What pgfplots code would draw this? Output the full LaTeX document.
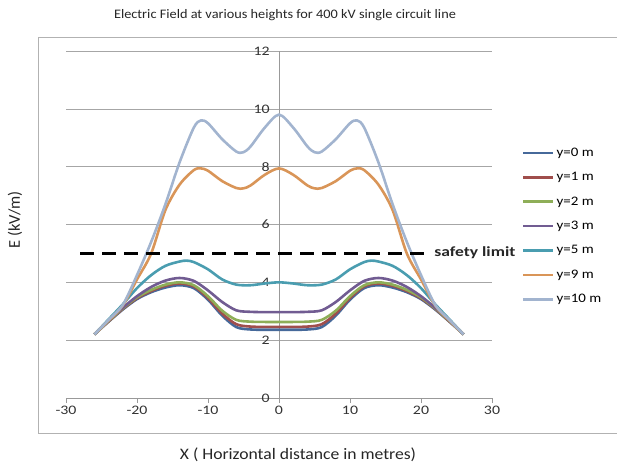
\documentclass[border=0pt]{standalone}
\usepackage{fontspec}
\setmainfont{Carlito}
\usepackage{pgfplots}
\pgfplotsset{compat=1.18}
\definecolor{c0}{HTML}{46699A}
\definecolor{c1}{HTML}{A04E4C}
\definecolor{c2}{HTML}{8EAE58}
\definecolor{c3}{HTML}{715C92}
\definecolor{c5}{HTML}{4A9DB0}
\definecolor{c9}{HTML}{D99558}
\definecolor{c10}{HTML}{A2B4CF}
\begin{document}
\begin{tikzpicture}
\useasboundingbox (-66pt,-67pt) rectangle (551pt,398pt);
\draw[gray!60, line width=0.8pt] (-28pt,-35pt) rectangle (560pt,361pt);
\begin{axis}[at={(0,0)}, anchor=south west, scale only axis,
  width=426pt, height=347pt,
  xmin=-30, xmax=30, ymin=0, ymax=12,
  axis x line=bottom, axis y line=middle,
  axis line style={-, gray!80, line width=0.6pt},
  hide obscured x ticks=false, hide obscured y ticks=false,
  xtick={-30,-20,...,30}, ytick={0,2,...,12},
  x tick label style={font=\fontsize{13}{15}\selectfont, text=black!80, xscale=1.22},
  y tick label style={font=\fontsize{13}{15}\selectfont, text=black!80, xscale=1.22},
  xtick style={gray!80, line width=0.6pt}, ytick style={draw=none},
  tick align=outside, major tick length=5pt,
  ymajorgrids, grid style={gray!70, line width=0.5pt},
  /pgf/number format/assume math mode=true,
  clip=false,
  legend style={at={(1.063,0.733)}, anchor=north west, draw=none, fill=none,
    font=\fontsize{13}{15}\selectfont, row sep=10.5pt},
  legend cell align=left,
  legend image code/.code={\draw[#1, line width=2.6pt] (0pt,0pt) -- (30pt,0pt);},
]
\addplot[c0, line width=2.6pt, smooth] coordinates {(-26,2.2) (-24,2.64) (-22,3.06) (-20,3.42) (-18,3.66) (-16,3.82) (-14,3.9) (-12,3.8) (-10,3.4) (-8,2.85) (-6,2.45) (-4,2.37) (-2,2.36) (0,2.36) (2,2.36) (4,2.37) (6,2.45) (8,2.85) (10,3.4) (12,3.8) (14,3.9) (16,3.82) (18,3.66) (20,3.42) (22,3.06) (24,2.64) (26,2.2)};
\addlegendentry{\scalebox{1.15}[1]{y=0 m}}
\addplot[c1, line width=2.6pt, smooth] coordinates {(-26,2.2) (-24,2.65) (-22,3.08) (-20,3.45) (-18,3.7) (-16,3.88) (-14,3.96) (-12,3.86) (-10,3.46) (-8,2.92) (-6,2.55) (-4,2.47) (-2,2.46) (0,2.46) (2,2.46) (4,2.47) (6,2.55) (8,2.92) (10,3.46) (12,3.86) (14,3.96) (16,3.88) (18,3.7) (20,3.45) (22,3.08) (24,2.65) (26,2.2)};
\addlegendentry{\scalebox{1.15}[1]{y=1 m}}
\addplot[c2, line width=2.6pt, smooth] coordinates {(-26,2.2) (-24,2.66) (-22,3.1) (-20,3.48) (-18,3.74) (-16,3.92) (-14,4.0) (-12,3.9) (-10,3.52) (-8,3.02) (-6,2.7) (-4,2.64) (-2,2.63) (0,2.63) (2,2.63) (4,2.64) (6,2.7) (8,3.02) (10,3.52) (12,3.9) (14,4.0) (16,3.92) (18,3.74) (20,3.48) (22,3.1) (24,2.66) (26,2.2)};
\addlegendentry{\scalebox{1.15}[1]{y=2 m}}
\addplot[c3, line width=2.6pt, smooth] coordinates {(-26,2.2) (-24,2.68) (-22,3.12) (-20,3.52) (-18,3.84) (-16,4.06) (-14,4.15) (-12,4.05) (-10,3.72) (-8,3.32) (-6,3.03) (-4,2.98) (-2,2.97) (0,2.97) (2,2.97) (4,2.98) (6,3.03) (8,3.32) (10,3.72) (12,4.05) (14,4.15) (16,4.06) (18,3.84) (20,3.52) (22,3.12) (24,2.68) (26,2.2)};
\addlegendentry{\scalebox{1.15}[1]{y=3 m}}
\addplot[c5, line width=2.6pt, smooth] coordinates {(-26,2.2) (-24,2.72) (-22,3.24) (-20,3.8) (-18,4.25) (-16,4.57) (-14,4.72) (-13,4.75) (-12,4.7) (-10,4.45) (-8,4.1) (-6,3.92) (-4,3.9) (-2,3.96) (0,4.0) (2,3.96) (4,3.9) (6,3.92) (8,4.1) (10,4.45) (12,4.7) (13,4.75) (14,4.72) (16,4.57) (18,4.25) (20,3.8) (22,3.24) (24,2.72) (26,2.2)};
\addlegendentry{\scalebox{1.15}[1]{y=5 m}}
\addplot[c9, line width=2.6pt, smooth] coordinates {(-26,2.2) (-24,2.68) (-22,3.2) (-20,4.1) (-18,5.0) (-16,6.5) (-14,7.38) (-12,7.88) (-11,7.94) (-10,7.86) (-8,7.5) (-6,7.26) (-5,7.25) (-4,7.35) (-2,7.72) (0,7.94) (2,7.72) (4,7.35) (5,7.25) (6,7.26) (8,7.5) (10,7.86) (11,7.94) (12,7.88) (14,7.38) (16,6.5) (18,5.0) (20,4.1) (22,3.2) (24,2.68) (26,2.2)};
\addlegendentry{\scalebox{1.15}[1]{y=9 m}}
\addplot[c10, line width=2.6pt, smooth] coordinates {(-26,2.2) (-24,2.7) (-22,3.22) (-20,4.25) (-18,5.4) (-16,6.7) (-14,8.15) (-12,9.35) (-11,9.6) (-10,9.5) (-8,8.95) (-6,8.52) (-5,8.5) (-4,8.7) (-2,9.35) (0,9.8) (2,9.35) (4,8.7) (5,8.5) (6,8.52) (8,8.95) (10,9.5) (11,9.6) (12,9.35) (14,8.15) (16,6.7) (18,5.4) (20,4.25) (22,3.22) (24,2.7) (26,2.2)};
\addlegendentry{\scalebox{1.15}[1]{y=10 m}}
\addplot[black, line width=2.8pt, dash pattern=on 14pt off 8pt, sharp plot, forget plot] coordinates {(-28,5) (20.6,5)};
\end{axis}
\node[font=\fontsize{13}{15}\selectfont, text=black!85, xscale=1.1] at (219pt,383pt) {Electric Field at various heights for 400 kV single circuit line};
\node[font=\fontsize{16.5}{18}\selectfont, text=black!85, rotate=90] at (-51pt,178pt) {E (kV/m)};
\node[font=\fontsize{16}{18}\selectfont, text=black!85, xscale=1.1] at (232pt,-57pt) {X ( Horizontal distance in metres)};
\node[font=\bfseries\fontsize{14}{16}\selectfont, text=black!85, anchor=west, xscale=1.25] at (364pt,145pt) {safety limit};
\end{tikzpicture}
\end{document}
